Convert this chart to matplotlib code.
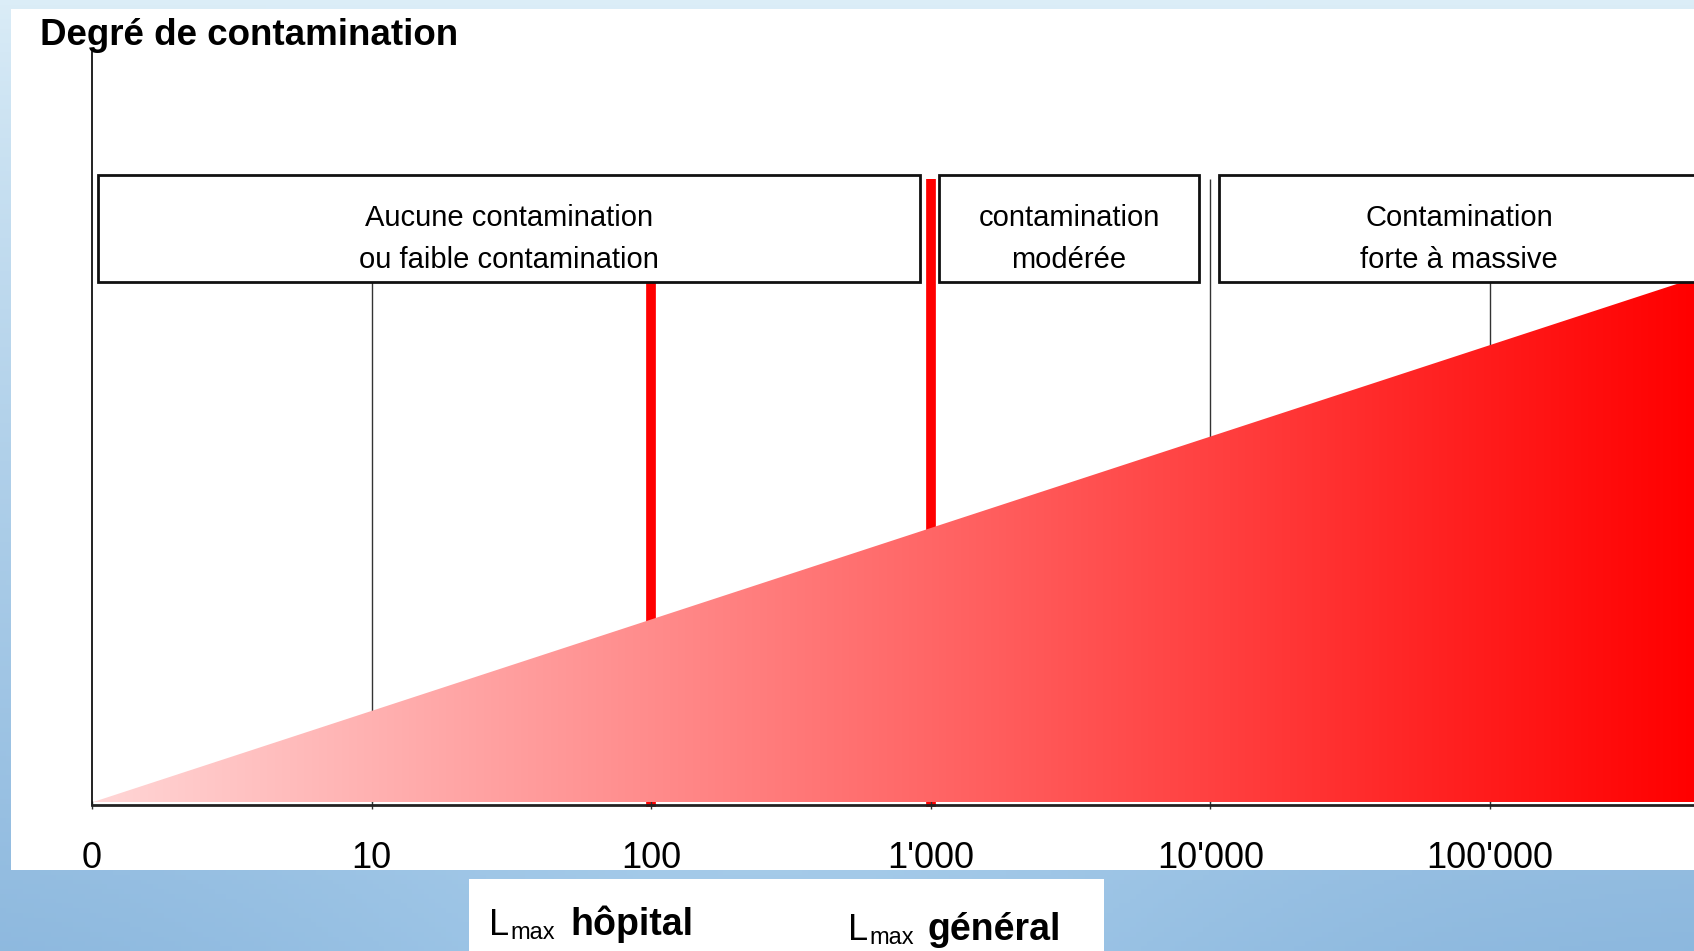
import numpy as np
import matplotlib
matplotlib.use("Agg")
import matplotlib.pyplot as plt
from matplotlib.patches import Rectangle, Polygon

plt.rcParams['font.family'] = ['Liberation Sans', 'DejaVu Sans']

# ---------------- data ----------------
tick_pos = [0, 1, 2, 3, 4, 5]                      # decades (log scale, 0 = origin)
tick_labels = ["0", "10", "100", "1'000", "10'000", "100'000"]
x_max = 5.73                                       # right end of the scale (decades)

cat_line1 = ["Aucune contamination", "contamination", "Contamination"]
cat_line2 = ["ou faible contamination", "modérée", "forte à massive"]
cat_start = [0, 3, 4]
cat_end = [3, 4, 5.8]

limit_pos = [2, 3]                                  # L max hôpital (100), L max général (1'000)
limit_top = [1.0, 1.19]
limit_names = ["hôpital", "général"]

grid_pos = [1, 4, 5]
grid_top = [1.0, 1.19, 1.0]

degree_x = [0, x_max]                               # degree of contamination (relative)
degree_y = [0, 1.0]

W, H = 1694, 951
fig = plt.figure(figsize=(W / 100, H / 100), dpi=100)

def fx(px):
    return px / W

def fy(py):
    return 1 - py / H

# ---------------- background ----------------
bg = fig.add_axes([0, 0, 1, 1], zorder=0)
ny, nx = 200, 300
yy = np.linspace(0, 1, ny)[:, None]
xx = np.linspace(0, 1, nx)[None, :]
top = np.array([0.86, 0.93, 0.97])
bot = np.array([0.55, 0.72, 0.87])
t = yy ** 0.8
mid = 0.08 * np.exp(-((xx - 0.45) / 0.3) ** 2) * yy
img = top[None, None, :] * (1 - t[..., None]) + bot[None, None, :] * t[..., None]
img = np.clip(img + mid[..., None] * np.array([1, 0.8, 0.5]), 0, 1)
bg.imshow(img, extent=[0, 1, 0, 1], aspect='auto', origin='upper')
bg.set_xlim(0, 1)
bg.set_ylim(0, 1)
bg.axis('off')
bg.add_patch(Rectangle((fx(11), fy(870)), 1 - fx(11), fy(9) - fy(870), facecolor='white', edgecolor='none'))
bg.add_patch(Rectangle((fx(469), 0), fx(1104) - fx(469), fy(879), facecolor='white', edgecolor='none'))

# ---------------- main axes ----------------
ax = fig.add_axes([fx(92), fy(805), fx(1694) - fx(92), fy(52) - fy(805)], zorder=2)
ax.patch.set_alpha(0)
ax.set_xlim(0, x_max)
ax.set_ylim(-0.005, 1.432)
for s in ['top', 'right']:
    ax.spines[s].set_visible(False)
ax.spines['left'].set_color('#111111')
ax.spines['left'].set_linewidth(1.3)
ax.spines['bottom'].set_color('#222222')
ax.spines['bottom'].set_linewidth(2.0)
ax.set_yticks([])
ax.set_xticks(tick_pos)
ax.set_xticklabels(tick_labels, fontsize=26)
ax.tick_params(axis='x', direction='inout', length=6, width=1, color='#333333', pad=23)

# grid lines and limit lines
ax.vlines(grid_pos, 0, grid_top, colors='#333333', linewidth=1.0, zorder=1, clip_on=False)
ax.vlines(limit_pos, -0.008, limit_top, colors='#ff0000', linewidth=7, zorder=1, clip_on=False)

# gradient triangle
grad = np.linspace(0, 1, 400)
g = 0.84 * (1 - grad)
tri_img = np.stack([np.ones_like(grad), g, g], axis=-1)[None, :, :]
im = ax.imshow(tri_img, extent=[0, x_max, 0, degree_y[1]], aspect='auto', zorder=3, interpolation='bilinear')
tri = Polygon([(degree_x[0], degree_y[0]), (degree_x[1], degree_y[1]), (degree_x[1], 0)],
              closed=True, facecolor='none', edgecolor='none', transform=ax.transData)
ax.add_patch(tri)
im.set_clip_path(tri)
ax.set_xlim(0, x_max)
ax.set_ylim(-0.005, 1.432)

# category boxes
for s, e, l1, l2 in zip(cat_start, cat_end, cat_line1, cat_line2):
    x0 = s + (0.02 if s == 0 else 0.03)
    x1 = e - 0.04
    ax.add_patch(Rectangle((x0, 0.994), x1 - x0, 0.204, facecolor='white', edgecolor='#111111',
                           linewidth=2, zorder=4, clip_on=False))
    cx = (x0 + min(x1, 5.75)) / 2
    ax.text(cx, 1.099, l1, ha='center', va='baseline', fontsize=21, zorder=5)
    ax.text(cx, 1.019, l2, ha='center', va='baseline', fontsize=21, zorder=5)

# title
fig.text(fx(40), fy(45), "Degré de contamination", fontsize=26.5, fontweight='bold',
         ha='left', va='baseline', zorder=5)

# L max labels
lx = [489, 848]
wx = [570, 927]
base = [935, 940]
for x0, x1, b, name in zip(lx, wx, base, limit_names):
    fig.text(fx(x0), fy(b), "L", fontsize=26, ha='left', va='baseline', zorder=5)
    fig.text(fx(x0 + 21), fy(b + 4), "max", fontsize=17, ha='left', va='baseline', zorder=5)
    fig.text(fx(x1), fy(b), name, fontsize=27, fontweight='bold', ha='left', va='baseline', zorder=5)

fig.savefig("out.png", dpi=100)
